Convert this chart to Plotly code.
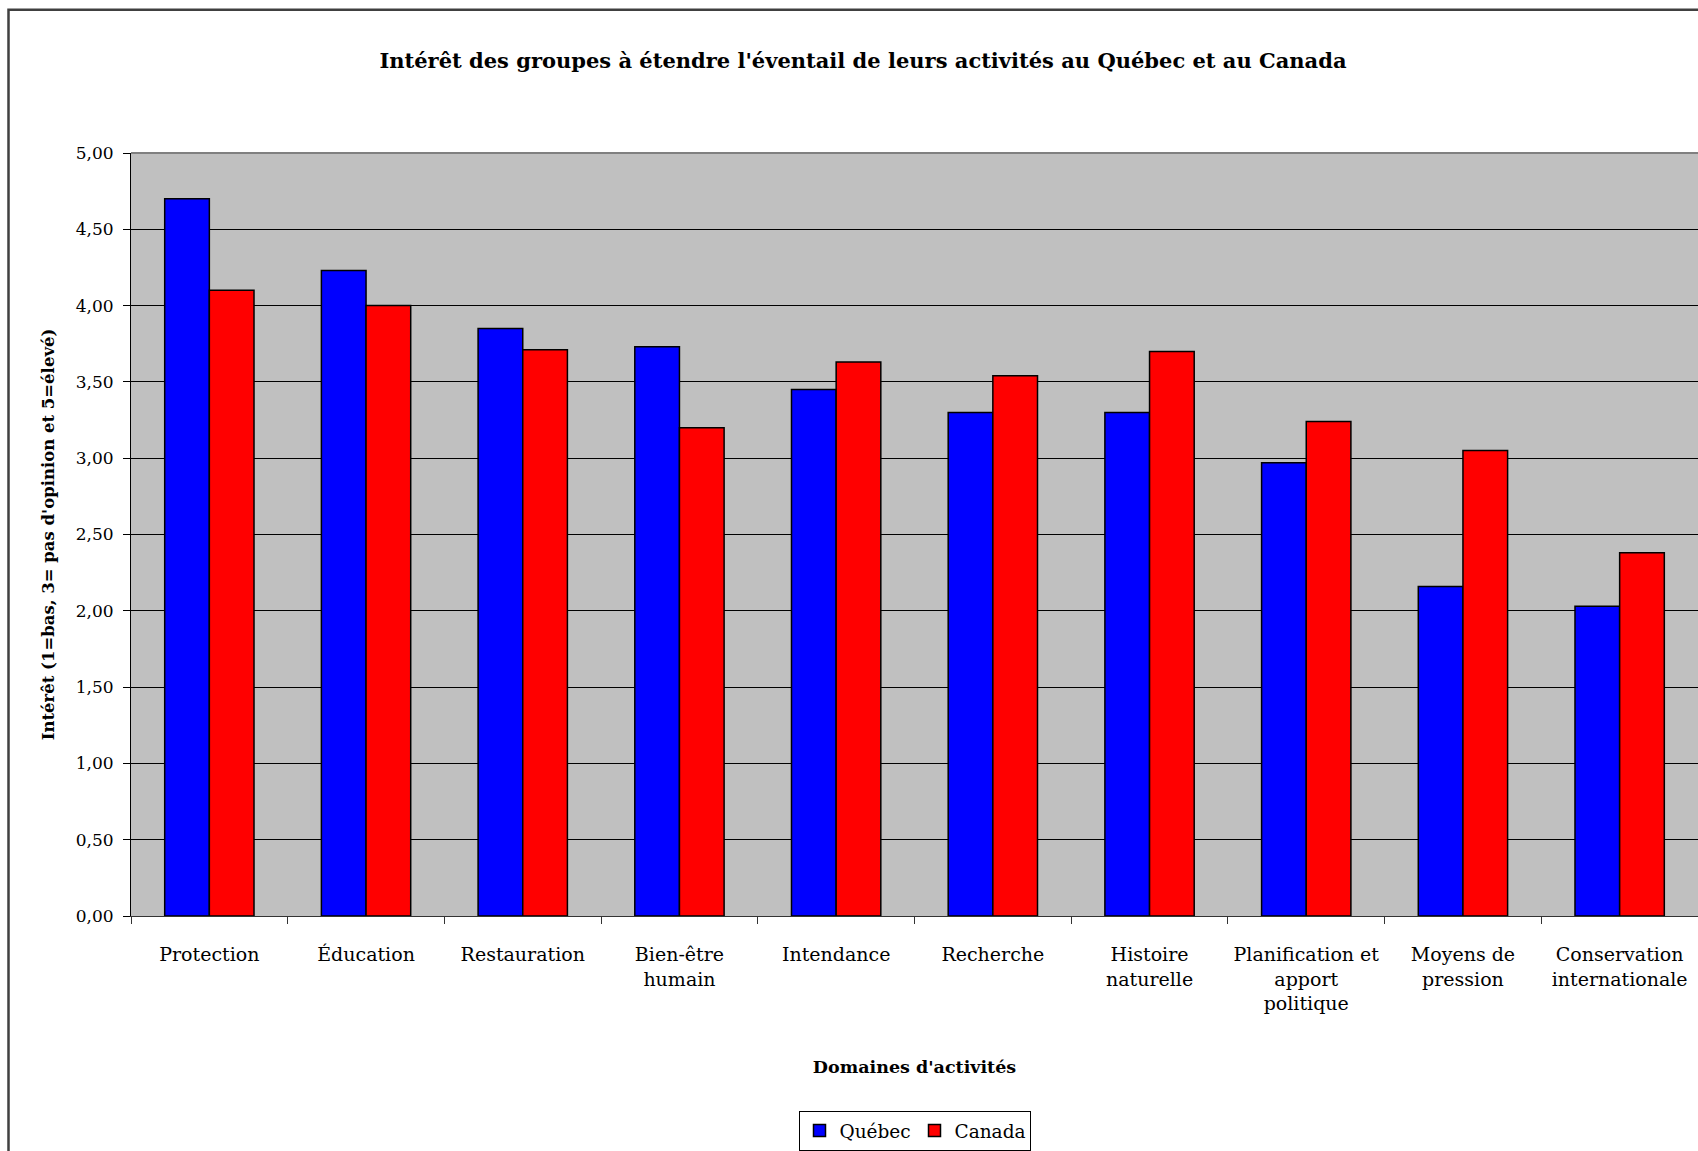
import plotly.graph_objects as go

# Domaines d'activités (catégories de l'axe x)
domaines = [
    "Protection",
    "Éducation",
    "Restauration",
    "Bien-être<br>humain",
    "Intendance",
    "Recherche",
    "Histoire<br>naturelle",
    "Planification et<br>apport<br>politique",
    "Moyens de<br>pression",
    "Conservation<br>internationale",
]

# Intérêt moyen par groupe
quebec = [4.70, 4.23, 3.85, 3.73, 3.45, 3.30, 3.30, 2.97, 2.16, 2.03]
canada = [4.10, 4.00, 3.71, 3.20, 3.63, 3.54, 3.70, 3.24, 3.05, 2.38]

FONT = "DejaVu Serif, Liberation Serif, serif"

W, H = 1698, 1151
ML, MT = 131, 153
PLOT_BOTTOM = 917
MB = H - PLOT_BOTTOM
plot_w = W - ML
plot_h = H - MT - MB

fig = go.Figure()
fig.add_trace(go.Bar(x=domaines, y=quebec, name="Québec",
                     marker=dict(color="#0000FF", line=dict(color="black", width=1.5))))
fig.add_trace(go.Bar(x=domaines, y=canada, name="Canada",
                     marker=dict(color="#FF0000", line=dict(color="black", width=1.5))))

fig.update_layout(
    width=W, height=H,
    margin=dict(l=ML, r=0, t=MT, b=MB),
    paper_bgcolor="white",
    plot_bgcolor="#C0C0C0",
    barmode="group",
    bargap=0.43,
    bargroupgap=0,
    separators=", ",
    font=dict(family=FONT, color="black", size=18),
    title=dict(
        text="<b>Intérêt des groupes à étendre l'éventail de leurs activités au Québec et au Canada</b>",
        x=863 / W, xref="container", xanchor="center",
        y=1 - 61 / H, yref="container", yanchor="middle",
        font=dict(family=FONT, size=21, color="black"),
    ),
    legend=dict(
        orientation="h",
        x=0.5, xanchor="center",
        y=-(1112 - PLOT_BOTTOM) / plot_h, yanchor="top",
        bordercolor="black", borderwidth=1, bgcolor="white",
        font=dict(family=FONT, size=18.5, color="black"),
        itemwidth=30,
        entrywidth=70, entrywidthmode="pixels",
    ),
    showlegend=True,
)

fig.update_yaxes(
    range=[0, 5], dtick=0.5, tickformat=".2f",
    showgrid=True, gridcolor="black", gridwidth=1,
    showline=True, linecolor="black", linewidth=1,
    ticks="outside", ticklen=7, tickcolor="black",
    ticklabelstandoff=6,
    tickfont=dict(family=FONT, size=17, color="black"),
    zeroline=False,
    title=dict(text="<b>Intérêt (1=bas, 3= pas d'opinion et 5=élevé)</b>",
               font=dict(family=FONT, size=16.5, color="black"), standoff=16),
    fixedrange=True,
)
fig.update_xaxes(
    showline=True, linecolor="#333333", linewidth=1,
    ticks="outside", ticklen=7, tickcolor="#333333",
    tickson="boundaries",
    ticklabelstandoff=21,
    tickfont=dict(family=FONT, size=19, color="black"),
    title=dict(text="<b>Domaines d'activités</b>",
               font=dict(family=FONT, size=17.5, color="black"), standoff=47),
    fixedrange=True,
)

# cadre extérieur du graphique et bordure grise du haut de la zone de tracé
fig.add_shape(type="rect", xref="paper", yref="paper",
              x0=(8.5 - ML) / plot_w, x1=1.1, y0=-1, y1=(PLOT_BOTTOM - 9.5) / plot_h,
              line=dict(color="#404040", width=2.5), fillcolor="rgba(0,0,0,0)", layer="above")
fig.add_shape(type="line", xref="paper", yref="paper",
              x0=0, x1=1, y0=1, y1=1,
              line=dict(color="#808080", width=2), layer="above")

# pas de marge de page : la figure occupe exactement la fenêtre
fig.write_html("out.html",
               config={"displayModeBar": False},
               post_script="document.body.style.margin='0';document.body.style.overflow='hidden';")
